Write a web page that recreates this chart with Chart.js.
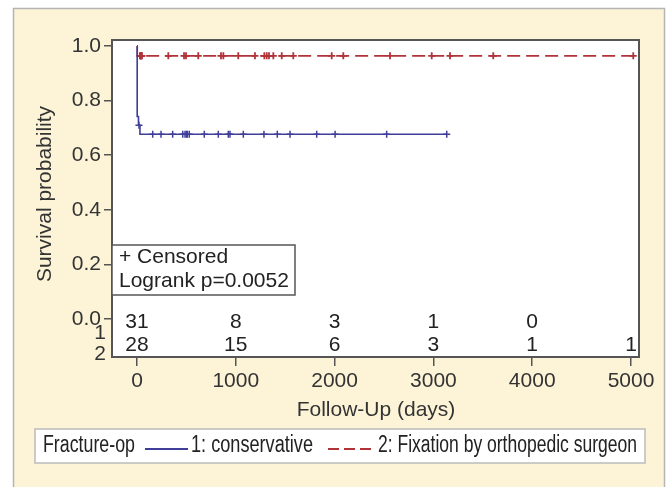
<!DOCTYPE html>
<html><head><meta charset="utf-8">
<script src="https://cdn.jsdelivr.net/npm/chart.js@4.4.0/dist/chart.umd.min.js"></script>
<style>html,body{margin:0;padding:0;background:#fff;} #wrap{width:668px;height:487px;position:relative}</style>
</head><body><div id="wrap"><canvas id="c" width="668" height="487"></canvas></div>
<script>
const xTicks = [0, 1000, 2000, 3000, 4000, 5000];
const yTicks = [0, 0.2, 0.4, 0.6, 0.8, 1.0];
const conservativeTimes = [0, 2, 15, 30, 3135];
const conservativeSurv = [1, 0.742, 0.710, 0.677, 0.677];
const conservativeCensor = [20, 159, 243, 361, 463, 486, 500, 509, 529, 681, 823, 924, 941, 1076, 1285, 1420, 1549, 1819, 2005, 2527, 3135];
const fixationTimes = [0, 3, 5023];
const fixationSurv = [1, 0.964, 0.964];
const fixationCensor = [30, 35, 37, 40, 45, 50, 317, 476, 496, 620, 850, 874, 1025, 1194, 1289, 1313, 1336, 1380, 1465, 1582, 1971, 2088, 2561, 2983, 3168, 3606, 5023];
const riskConservative = [31, 8, 3, 1, 0, null];
const riskFixation = [28, 15, 6, 3, 1, 1];
const groupLabels = ['1: conservative', '2: Fixation by orthopedic surgeon'];

const BLUE = '#3f3f9a', RED = '#b0333a';
const FONT = '"Liberation Sans", Arial, sans-serif';

function survAt(times, surv, t) {
  let s = surv[0];
  for (let i = 0; i < times.length; i++) if (times[i] <= t) s = surv[i];
  return s;
}
const pts = (ts, ss) => ts.map((t, i) => ({x: t, y: ss[i]}));
const cens = (c, ts, ss) => c.map(t => ({x: t, y: survAt(ts, ss, t)}));

const decor = {
  id: 'decor',
  beforeDraw(chart) {
    const ctx = chart.ctx, a = chart.chartArea;
    ctx.save();
    ctx.fillStyle = '#fff'; ctx.fillRect(0, 0, 668, 487);
    ctx.fillStyle = '#fdf4d8'; ctx.fillRect(13, 8, 652, 490);
    ctx.strokeStyle = '#b5b5b5'; ctx.lineWidth = 1.5; ctx.strokeRect(13.5, 8.5, 651, 490);
    ctx.fillStyle = '#fff'; ctx.fillRect(a.left, a.top, a.right - a.left, a.bottom - a.top);
    ctx.restore();
  },
  afterDraw(chart) {
    const ctx = chart.ctx, a = chart.chartArea, xs = chart.scales.x;
    ctx.save();
    ctx.strokeStyle = '#555'; ctx.lineWidth = 2;
    ctx.strokeRect(a.left, a.top, a.right - a.left, a.bottom - a.top);
    ctx.fillStyle = '#333'; ctx.font = '21px ' + FONT;
    ctx.textAlign = 'center'; ctx.textBaseline = 'middle';
    ctx.fillText('Follow-Up (days)', 376, 410);
    ctx.save(); ctx.translate(45, 194); ctx.rotate(-Math.PI / 2);
    ctx.fillText('Survival probability', 0, 0); ctx.restore();
    ctx.fillStyle = '#222';
    xTicks.forEach((t, i) => {
      const px = xs.getPixelForValue(t);
      if (riskConservative[i] !== null) ctx.fillText(String(riskConservative[i]), px, 322);
      if (riskFixation[i] !== null) ctx.fillText(String(riskFixation[i]), px, 345);
    });
    ctx.fillStyle = '#333';
    ctx.fillText('1', 100, 333);
    ctx.fillText('2', 100, 354);
    ctx.fillStyle = '#fff'; ctx.fillRect(a.left, 245, 183, 50);
    ctx.strokeStyle = '#555'; ctx.lineWidth = 1.5; ctx.strokeRect(a.left, 245, 183, 50);
    ctx.fillStyle = '#222'; ctx.textAlign = 'left';
    ctx.fillText('+ Censored', 119, 257);
    ctx.fillText('Logrank p=0.0052', 119, 281);
    // legend
    ctx.fillStyle = '#fff'; ctx.fillRect(35, 429, 610, 34);
    ctx.strokeStyle = '#bbb'; ctx.lineWidth = 1.5; ctx.strokeRect(35, 429, 610, 34);
    ctx.font = '23px ' + FONT;
    ctx.fillStyle = '#222';
    ctx.fillText('Fracture-op', 43, 446, 92);
    ctx.strokeStyle = BLUE; ctx.lineWidth = 2;
    ctx.beginPath(); ctx.moveTo(145, 449); ctx.lineTo(188, 449); ctx.stroke();
    ctx.fillText(groupLabels[0], 191, 446, 122);
    ctx.strokeStyle = RED; ctx.setLineDash([11, 5]);
    ctx.beginPath(); ctx.moveTo(328, 449); ctx.lineTo(373, 449); ctx.stroke();
    ctx.setLineDash([]);
    ctx.fillText(groupLabels[1], 378, 446, 259);
    ctx.restore();
  }
};

new Chart(document.getElementById('c'), {
  type: 'line',
  data: {
    datasets: [
      {label: groupLabels[0], data: pts(conservativeTimes, conservativeSurv), borderColor: BLUE, borderWidth: 1.6, stepped: 'before', pointRadius: 0, fill: false},
      {label: groupLabels[1], data: pts(fixationTimes, fixationSurv), borderColor: RED, borderWidth: 1.6, borderDash: [13, 6], stepped: 'before', pointRadius: 0, fill: false},
      {type: 'scatter', label: 'c1', data: cens(conservativeCensor, conservativeTimes, conservativeSurv), pointStyle: 'cross', pointRadius: 3.5, borderColor: BLUE, borderWidth: 1.5, showLine: false},
      {type: 'scatter', label: 'c2', data: cens(fixationCensor, fixationTimes, fixationSurv), pointStyle: 'cross', pointRadius: 3.5, borderColor: RED, borderWidth: 1.8, showLine: false}
    ]
  },
  options: {
    responsive: false, animation: false, devicePixelRatio: 1,
    layout: {padding: {left: 0, top: 40, right: 29, bottom: 0}},
    plugins: {legend: {display: false}, tooltip: {enabled: false}},
    scales: {
      x: {
        type: 'linear', min: -253, max: 5081,
        afterBuildTicks: s => { s.ticks = xTicks.map(v => ({value: v})); },
        afterFit: s => { s.height = 130; },
        border: {display: false},
        grid: {drawOnChartArea: false, drawTicks: true, tickLength: 9, color: '#555', lineWidth: 1.5},
        ticks: {color: '#333', font: {family: FONT, size: 21}, padding: 3, maxRotation: 0, autoSkip: false, callback: v => String(v)}
      },
      y: {
        type: 'linear', min: -0.139, max: 1.022,
        afterBuildTicks: s => { s.ticks = yTicks.map(v => ({value: v})); },
        afterFit: s => { s.width = 112; },
        border: {display: false},
        grid: {drawOnChartArea: false, drawTicks: true, tickLength: 8, color: '#555', lineWidth: 1.5},
        ticks: {color: '#333', font: {family: FONT, size: 21}, padding: 3, autoSkip: false, callback: v => Number(v).toFixed(1)}
      }
    }
  },
  plugins: [decor]
});
</script></body></html>
